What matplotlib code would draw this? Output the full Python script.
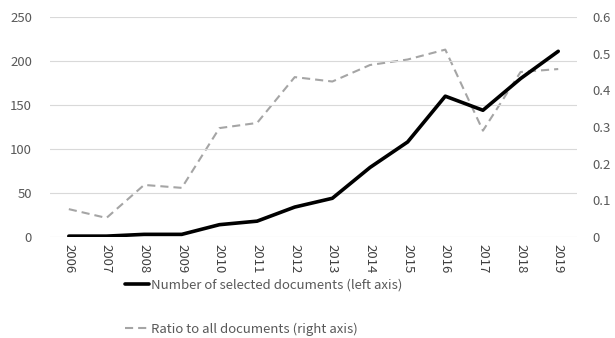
import matplotlib.pyplot as plt
import numpy as np

plt.rcParams['font.family'] = ['Noto Sans CJK JP', 'DejaVu Sans']

years = ['2006', '2007', '2008', '2009', '2010', '2011', '2012',
         '2013', '2014', '2015', '2016', '2017', '2018', '2019']
selected = [1, 1, 3, 3, 14, 18, 34, 44, 79, 108, 160, 144, 180, 211]
ratio = [0.076, 0.052, 0.142, 0.134, 0.297, 0.311, 0.436, 0.424,
         0.469, 0.484, 0.511, 0.290, 0.450, 0.458]

txt = '#595959'
x = np.arange(len(years))

fig = plt.figure(figsize=(6.15, 3.38), dpi=100)
ax = fig.add_axes([0.0813, 0.2988, 0.857, 0.651])
ax2 = ax.twinx()

ax.set_ylim(0, 250)
ax.set_yticks([0, 50, 100, 150, 200, 250])
ax.grid(axis='y', color='#D9D9D9', lw=0.8)
ax.set_axisbelow(True)
ax2.set_ylim(0, 0.6)
ax2.set_yticks([0, 0.1, 0.2, 0.3, 0.4, 0.5, 0.6])
ax2.set_yticklabels(['0', '0.1', '0.2', '0.3', '0.4', '0.5', '0.6'])

l1, = ax.plot(x, selected, color='black', lw=2.6, solid_capstyle='round',
              label='Number of selected documents (left axis)', zorder=3)
l2, = ax2.plot(x, ratio, color='#A5A5A5', lw=1.5, dashes=(3.9, 2.4),
               label='Ratio to all documents (right axis)')
ax.set_zorder(ax2.get_zorder() + 1)
ax.patch.set_visible(False)

ax.set_xlim(-0.5, len(years) - 0.5)
ax.set_xticks(x)
ax.set_xticklabels(years, rotation=270)

for a in (ax, ax2):
    for s in a.spines.values():
        s.set_visible(False)
    a.tick_params(length=0, colors=txt, labelsize=9.5)
ax.tick_params(axis='x', labelcolor='#404040')
ax.tick_params(axis='y', pad=13)
ax.tick_params(axis='x', pad=5)
ax2.tick_params(axis='y', pad=11)

fig.legend(handles=[l1, l2], loc='upper left', bbox_to_anchor=(0.203, 0.176),
           frameon=False, fontsize=9.5, labelcolor=txt, handlelength=1.8,
           handletextpad=0.15, labelspacing=2.35, borderaxespad=0, borderpad=0)

fig.savefig('out.png', dpi=100)
